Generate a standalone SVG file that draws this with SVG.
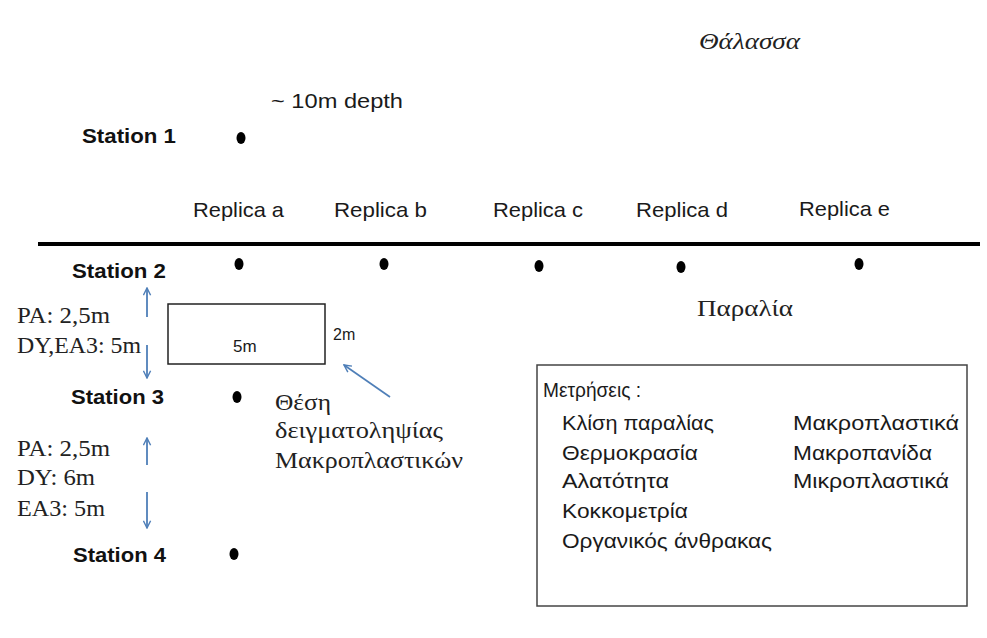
<svg xmlns="http://www.w3.org/2000/svg" width="987" height="638" viewBox="0 0 987 638">
<style>
text{lengthAdjust:spacingAndGlyphs}
.sans{font-family:"Liberation Sans","DejaVu Sans",sans-serif;fill:#1a1a1a}
.st{font-family:"Liberation Sans","DejaVu Sans",sans-serif;font-weight:bold;font-size:21px;fill:#111}
.serif{font-family:"Liberation Serif","DejaVu Serif",serif;fill:#222}
.dot{fill:#000}
.arr{stroke:#4f7fb8;stroke-width:1.8;fill:none;marker-end:url(#ah)}
</style>
<defs>
<marker id="ah" viewBox="0 0 10 10" refX="9" refY="5" markerWidth="9" markerHeight="9" markerUnits="userSpaceOnUse" orient="auto">
<path d="M1,1 L9,5 L1,9" fill="none" stroke="#4f7fb8" stroke-width="1.6"/>
</marker>
</defs>
<rect width="987" height="638" fill="#fff"/>
<g id="sea"><text class="serif" x="699" y="49" font-size="24" font-style="italic" textLength="101" lengthAdjust="spacingAndGlyphs">Θάλασσα</text></g>
<g id="depth"><text class="sans" x="271" y="108" font-size="21" textLength="132" lengthAdjust="spacingAndGlyphs">~ 10m depth</text></g>
<g id="station1"><text class="st" x="82" y="143" textLength="94" lengthAdjust="spacingAndGlyphs">Station 1</text><ellipse class="dot" cx="241" cy="138" rx="4.5" ry="6"/></g>
<g id="replicas" class="sans" font-size="21">
<text x="193" y="217" textLength="91" lengthAdjust="spacingAndGlyphs">Replica a</text>
<text x="334" y="217" textLength="93" lengthAdjust="spacingAndGlyphs">Replica b</text>
<text x="493" y="217" textLength="90" lengthAdjust="spacingAndGlyphs">Replica c</text>
<text x="636" y="217" textLength="92" lengthAdjust="spacingAndGlyphs">Replica d</text>
<text x="799" y="216" textLength="91" lengthAdjust="spacingAndGlyphs">Replica e</text>
</g>
<g id="shoreline"><line x1="38" y1="244" x2="980" y2="244" stroke="#000" stroke-width="4"/></g>
<g id="station2"><text class="st" x="72" y="278" textLength="94" lengthAdjust="spacingAndGlyphs">Station 2</text>
<ellipse class="dot" cx="239" cy="264" rx="4.5" ry="6"/>
<ellipse class="dot" cx="384" cy="264" rx="4.5" ry="6"/>
<ellipse class="dot" cx="539" cy="266" rx="4.5" ry="6"/>
<ellipse class="dot" cx="681" cy="267" rx="4.5" ry="6"/>
<ellipse class="dot" cx="859" cy="264" rx="4.5" ry="6"/>
</g>
<g id="beach"><text class="serif" x="697" y="316" font-size="23" textLength="96" lengthAdjust="spacingAndGlyphs">Παραλία</text></g>
<g id="dist1" class="serif" font-size="23">
<text x="17" y="323" textLength="93" lengthAdjust="spacingAndGlyphs">PA: 2,5m</text>
<text x="17" y="353" textLength="124" lengthAdjust="spacingAndGlyphs">DY,EA3: 5m</text>
</g>
<g id="quadrat">
<rect x="168" y="304" width="157" height="60" fill="none" stroke="#222" stroke-width="1.5"/>
<text class="sans" x="233" y="352" font-size="17">5m</text>
<text class="sans" x="333" y="340" font-size="16">2m</text>
</g>
<g id="station3"><text class="st" x="71" y="404" textLength="93" lengthAdjust="spacingAndGlyphs">Station 3</text><ellipse class="dot" cx="237" cy="397" rx="4.5" ry="6"/></g>
<g id="sampling-label" class="serif" font-size="24">
<text x="275" y="410" textLength="56" lengthAdjust="spacingAndGlyphs">Θέση</text>
<text x="275" y="438" textLength="168" lengthAdjust="spacingAndGlyphs">δειγματοληψίας</text>
<text x="275" y="468" textLength="188" lengthAdjust="spacingAndGlyphs">Μακροπλαστικών</text>
</g>
<g id="dist2" class="serif" font-size="23">
<text x="17" y="456" textLength="93" lengthAdjust="spacingAndGlyphs">PA: 2,5m</text>
<text x="17" y="485" textLength="78" lengthAdjust="spacingAndGlyphs">DY: 6m</text>
<text x="17" y="516" textLength="88" lengthAdjust="spacingAndGlyphs">EA3: 5m</text>
</g>
<g id="station4"><text class="st" x="73" y="562" textLength="93" lengthAdjust="spacingAndGlyphs">Station 4</text><ellipse class="dot" cx="234" cy="554" rx="4.5" ry="6"/></g>
<g id="measurements">
<rect x="537" y="365" width="430" height="241" fill="none" stroke="#444" stroke-width="1.5"/>
<g class="sans" font-size="20">
<text x="543" y="397" textLength="98" lengthAdjust="spacingAndGlyphs">Μετρήσεις :</text>
<text x="562" y="430" textLength="152" lengthAdjust="spacingAndGlyphs">Κλίση παραλίας</text>
<text x="562" y="460" textLength="136" lengthAdjust="spacingAndGlyphs">Θερμοκρασία</text>
<text x="562" y="488" textLength="107" lengthAdjust="spacingAndGlyphs">Αλατότητα</text>
<text x="562" y="518" textLength="126" lengthAdjust="spacingAndGlyphs">Κοκκομετρία</text>
<text x="562" y="548" textLength="210" lengthAdjust="spacingAndGlyphs">Οργανικός άνθρακας</text>
<text x="793" y="430" textLength="166" lengthAdjust="spacingAndGlyphs">Μακροπλαστικά</text>
<text x="793" y="460" textLength="139" lengthAdjust="spacingAndGlyphs">Μακροπανίδα</text>
<text x="793" y="488" textLength="156" lengthAdjust="spacingAndGlyphs">Μικροπλαστικά</text>
</g>
</g>
<g id="connectors">
<line class="arr" x1="147" y1="317" x2="147" y2="288"/>
<line class="arr" x1="147" y1="345" x2="147" y2="378"/>
<line class="arr" x1="147" y1="465" x2="147" y2="438"/>
<line class="arr" x1="147" y1="492" x2="147" y2="528"/>
<line class="arr" x1="390" y1="397" x2="344" y2="365"/>
</g>
</svg>
